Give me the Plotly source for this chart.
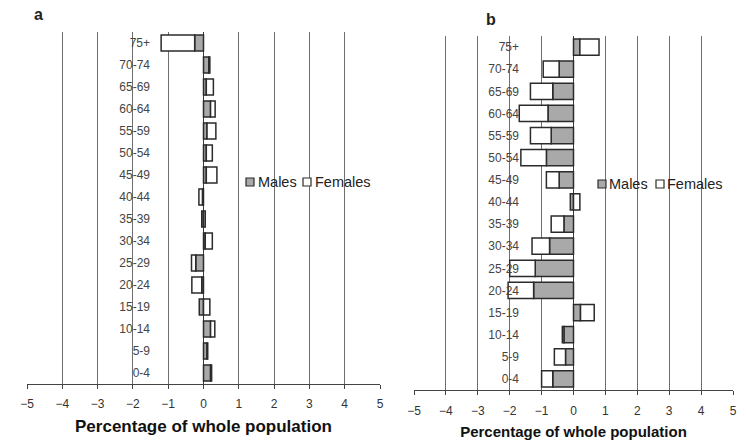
import plotly.graph_objects as go

ages = ["0-4", "5-9", "10-14", "15-19", "20-24", "25-29", "30-34", "35-39",
        "40-44", "45-49", "50-54", "55-59", "60-64", "65-69", "70-74", "75+"]

# Panel a
males_a = [0.20, 0.10, 0.20, -0.12, -0.05, -0.22, 0.05, -0.05,
           -0.03, 0.08, 0.08, 0.10, 0.20, 0.08, 0.15, -0.25]
females_a = [0.03, 0.02, 0.12, 0.18, -0.28, -0.12, 0.20, 0.05,
             -0.10, 0.30, 0.17, 0.25, 0.13, 0.20, 0.03, -0.95]

# Panel b
males_b = [-0.65, -0.25, -0.30, 0.22, -1.25, -1.20, -0.75, -0.30,
           -0.10, -0.45, -0.85, -0.70, -0.80, -0.65, -0.45, 0.20]
females_b = [-0.35, -0.35, -0.05, 0.43, -0.80, -0.80, -0.55, -0.40,
             0.20, -0.40, -0.80, -0.65, -0.90, -0.70, -0.50, 0.60]

xticks = [-5, -4, -3, -2, -1, 0, 1, 2, 3, 4, 5]
series_names = ["Males", "Females"]

W, H = 746, 442
FONT = "Arial, Liberation Sans, sans-serif"
MALE_FILL = "#a9a9a9"
EDGE = "#2b2b2b"
GRID = "#6e6e6e"
FILLS = [MALE_FILL, "white"]

fig = go.Figure()

def add_pair(xa, ya, m, f):
    for name, vals, fill in zip(series_names, [m, f], FILLS):
        fig.add_trace(go.Bar(y=ages, x=vals, orientation="h", name=name,
                             xaxis=xa, yaxis=ya, showlegend=False,
                             marker=dict(color=fill, line=dict(color=EDGE, width=1.5))))

add_pair("x", "y", males_a, females_a)
add_pair("x2", "y2", males_b, females_b)

def px_x(p):
    return p / W

def px_y(p):
    return 1 - p / H

def xaxis_style(domain, anchor, title_size, tick_standoff, title_standoff):
    return dict(domain=domain, anchor=anchor,
                range=[-5, 5], tickvals=xticks, showgrid=True, gridcolor=GRID, gridwidth=1.3,
                zeroline=True, zerolinecolor="#3a3a3a", zerolinewidth=1.1,
                showline=True, linecolor="#444", linewidth=1.3,
                ticks="outside", ticklen=4, tickcolor="#444",
                ticklabelstandoff=tick_standoff,
                tickfont=dict(family=FONT, size=12, color="#333"),
                title=dict(text="<b>Percentage of whole population</b>", standoff=title_standoff,
                           font=dict(family=FONT, size=title_size, color="#111")),
                fixedrange=True, automargin=False)

ycommon = dict(type="category", categoryorder="array", categoryarray=ages,
               range=[-0.5, 15.5], showgrid=False, zeroline=False, showline=False,
               ticks="", tickfont=dict(family=FONT, size=12, color="#444"),
               anchor="free", fixedrange=True, automargin=False)

annotations = [
    dict(text="<b>a</b>", x=px_x(38), y=px_y(15), xref="paper", yref="paper",
         xanchor="center", yanchor="middle",
         showarrow=False, font=dict(family=FONT, size=16, color="#222")),
    dict(text="<b>b</b>", x=px_x(491), y=px_y(20), xref="paper", yref="paper",
         xanchor="center", yanchor="middle",
         showarrow=False, font=dict(family=FONT, size=16, color="#222")),
]
shapes = []

# custom compact legends (Excel style)
def add_legend(positions, yc, size):
    for (sx, tx), name, fill in zip(positions, series_names, FILLS):
        shapes.append(dict(type="rect", xref="paper", yref="paper",
                           x0=px_x(sx), x1=px_x(sx + 8), y0=px_y(yc + 4), y1=px_y(yc - 4),
                           fillcolor=fill, line=dict(color=EDGE, width=1.2)))
        annotations.append(dict(text=name, x=px_x(tx), y=px_y(yc), xref="paper", yref="paper",
                                xanchor="left", yanchor="middle", showarrow=False,
                                font=dict(family=FONT, size=size, color="#222")))

add_legend([(246, 256), (303, 313)], 182, 14.5)
add_legend([(598, 607), (656, 665)], 184, 14.5)

fig.update_layout(
    width=W, height=H,
    margin=dict(l=0, r=0, t=0, b=0, autoexpand=False),
    paper_bgcolor="white", plot_bgcolor="white",
    barmode="relative", bargap=0.27,
    font=dict(family=FONT),
    showlegend=False,
    xaxis=xaxis_style([px_x(27), px_x(380)], "y", 17, 4, 10),
    yaxis=dict(domain=[px_y(384), px_y(32)], position=px_x(150), **ycommon),
    xaxis2=xaxis_style([px_x(414), px_x(733)], "y2", 15, 5, 9),
    yaxis2=dict(domain=[px_y(390), px_y(36)], position=px_x(519), **ycommon),
    annotations=annotations,
    shapes=shapes,
)

fig.write_html("out.html")
